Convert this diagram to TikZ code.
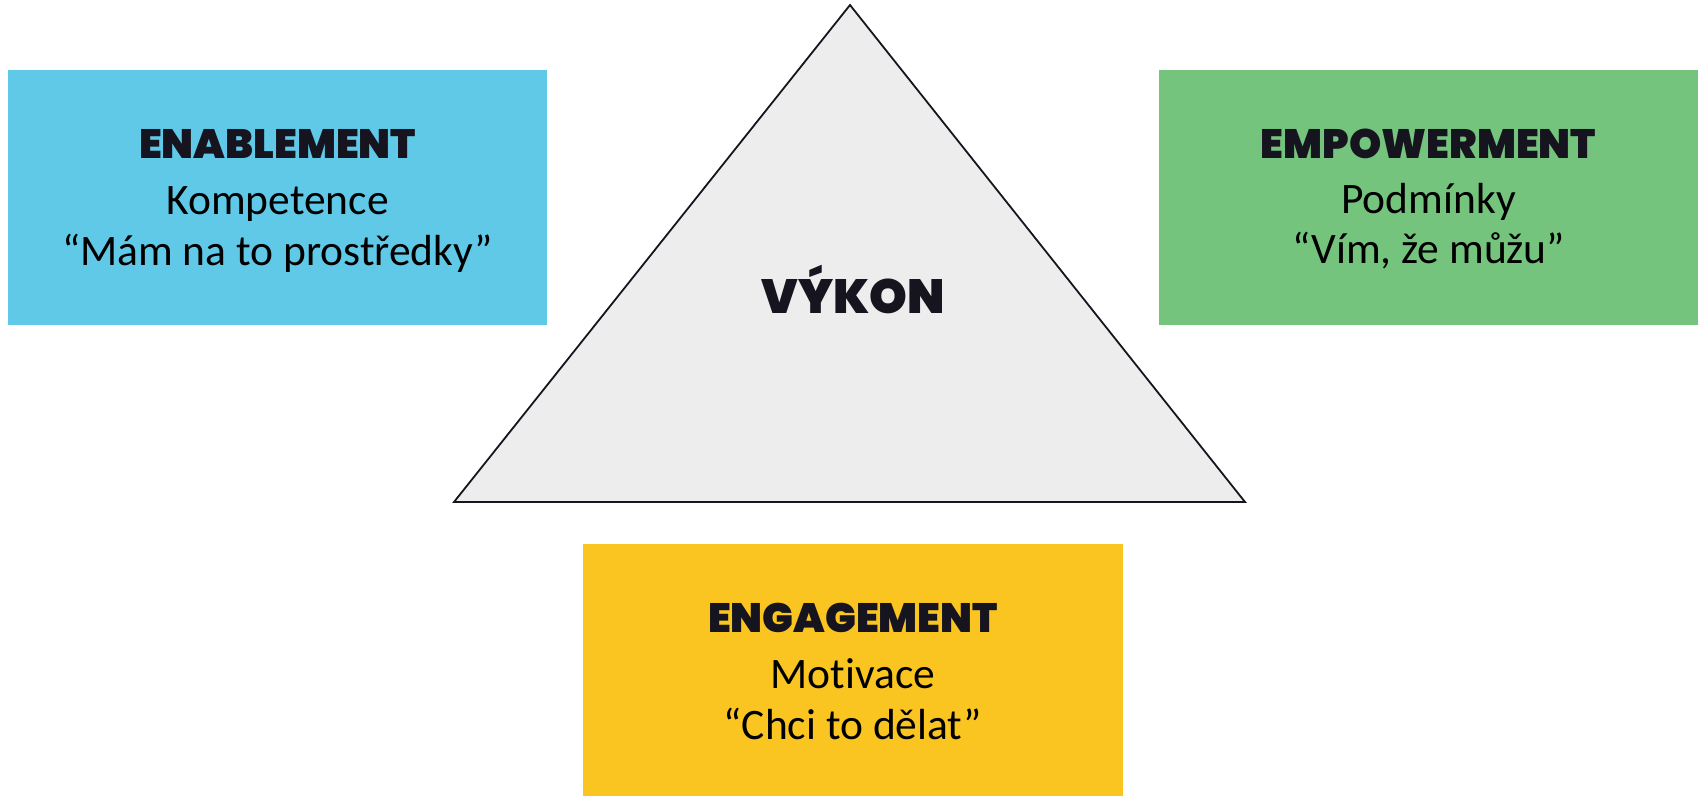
\documentclass[tikz,border=0pt]{standalone}
\usepackage{fontspec}
\setmainfont{Carlito}[Ligatures={NoCommon}]
\newfontfamily\headfont{Poppins Black}
\definecolor{cblue}{HTML}{5FC9E7}
\definecolor{cgreen}{HTML}{74C47D}
\definecolor{cyellow}{HTML}{FAC520}
\definecolor{tri}{HTML}{EDEDED}
\definecolor{ink}{HTML}{16151F}
\tikzset{
  box/.style={draw=none, inner sep=0pt},
  headtxt/.style={anchor=base, inner sep=0pt, font=\headfont\fontsize{41}{41}\selectfont, text=ink},
  bodytxt/.style={anchor=base, inner sep=0pt, font=\fontsize{43.5}{43.5}\selectfont, text=black},
}
\begin{document}
\begin{tikzpicture}[x=1pt,y=-1pt]
\path[use as bounding box] (0,0) rectangle (1698,796);
% boxes
\fill[cblue] (8,70) rectangle (547,325);
\fill[cgreen] (1159,70) rectangle (1698,325);
\fill[cyellow] (583,544) rectangle (1123,796);
% triangle
\coordinate (apex) at (850,5);
\coordinate (bl) at (454,502);
\coordinate (br) at (1245,502);
\draw[fill=tri, draw=ink, line width=1.8pt, line join=miter] (apex) -- (bl) -- (br) -- cycle;
\node[headtxt, font=\headfont\fontsize{48}{48}\selectfont] (vykon) at (853,313) {VÝKON};
% blue
\node[headtxt] (en) at (277.5,158) {ENABLEMENT};
\node[bodytxt] (komp) at (277.5,214) {Kompetence};
\node[bodytxt] (mam) at (277.5,265) {“Mám na to prostředky”};
% green
\node[headtxt] (emp) at (1428.5,158) {EMPOWERMENT};
\node[bodytxt] (podm) at (1428.5,213) {Podmínky};
\node[bodytxt] (vim) at (1428.5,263) {“Vím, že můžu”};
% yellow
\node[headtxt] (eng) at (853,632) {ENGAGEMENT};
\node[bodytxt] (mot) at (853,688) {Motivace};
\node[bodytxt] (chci) at (853,739) {“Chci to dělat”};
\end{tikzpicture}
\end{document}
